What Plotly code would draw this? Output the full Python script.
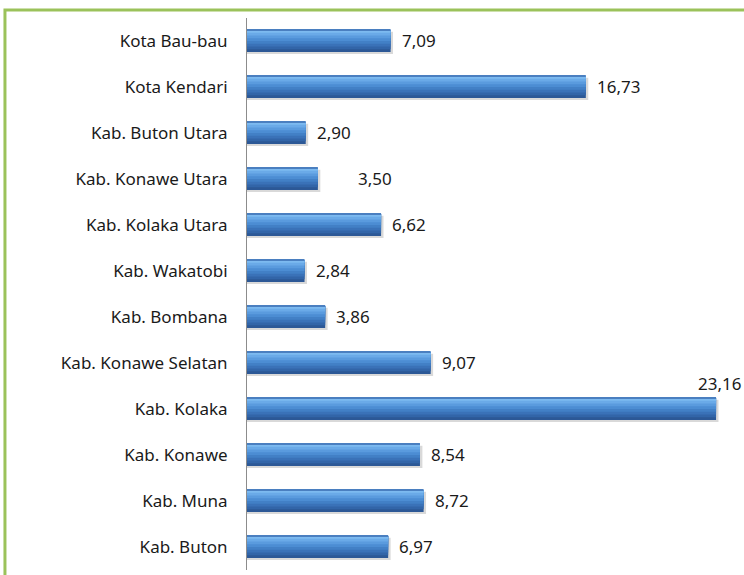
import plotly.graph_objects as go

categories = ["Kota Bau-bau", "Kota Kendari", "Kab. Buton Utara", "Kab. Konawe Utara",
              "Kab. Kolaka Utara", "Kab. Wakatobi", "Kab. Bombana", "Kab. Konawe Selatan",
              "Kab. Kolaka", "Kab. Konawe", "Kab. Muna", "Kab. Buton"]
values = [7.09, 16.73, 2.90, 3.50, 6.62, 2.84, 3.86, 9.07, 23.16, 8.54, 8.72, 6.97]
labels = ["7,09", "16,73", "2,90", "3,50", "6,62", "2,84", "3,86", "9,07", "23,16", "8,54", "8,72", "6,97"]

FONT = "Noto Sans"
fig = go.Figure()

# shadow
fig.add_trace(go.Bar(y=categories, x=[v + 0.12 for v in values], orientation="h",
                     width=0.48, offset=-0.20, marker=dict(color="#d9d9d9", line_width=0),
                     hoverinfo="skip"))
# gradient bands (from bottom dark to top light)
bands = [(0.48, "#2c5896"), (0.42, "#3265a8"), (0.36, "#3a72b8"), (0.30, "#4280c6"),
         (0.24, "#4c8dd3"), (0.18, "#5a9bde"), (0.12, "#6aaae8"), (0.06, "#7dbaf0")]
for w, col in bands:
    fig.add_trace(go.Bar(y=categories, x=values, orientation="h",
                         width=w, offset=-0.24, marker=dict(color=col, line_width=0),
                         hoverinfo="skip"))
# top edge line
fig.add_trace(go.Bar(y=categories, x=values, orientation="h",
                     width=0.02, offset=-0.24, marker=dict(color="#4a7fc0", line_width=0),
                     hoverinfo="skip"))

vmax = max(values)
for c, v, t in zip(categories, values, labels):
    if v == vmax:
        fig.add_annotation(x=v, y=c, text=t, showarrow=False, xanchor="right",
                           xshift=26, yshift=26, borderpad=0)
    else:
        shift = 38 if t == "3,50" else 9
        fig.add_annotation(x=v, y=c, text=t, showarrow=False, xanchor="left",
                           xshift=shift, yshift=1)

fig.add_shape(type="rect", xref="paper", yref="paper", x0=-0.487, x1=1.2, y0=-0.2, y1=1.0145,
              line=dict(color="#9bc25a", width=3), fillcolor="rgba(0,0,0,0)", layer="below")

fig.update_layout(
    width=744, height=575, barmode="overlay", showlegend=False,
    margin=dict(l=247, r=0, t=18, b=5),
    paper_bgcolor="white", plot_bgcolor="white",
    font=dict(family=FONT, size=17, color="#1a1a1a"),
    xaxis=dict(range=[0, 24.54], visible=False, fixedrange=True),
    yaxis=dict(autorange="reversed", showline=True, linecolor="#8c8c8c", linewidth=1,
               showgrid=False, ticks="", ticklabelstandoff=15, zeroline=False,
               fixedrange=True, tickfont=dict(family=FONT, size=17, color="#1a1a1a")),
)

fig.write_html("out.html", config={"displayModeBar": False},
               post_script="document.body.style.margin='0';")
